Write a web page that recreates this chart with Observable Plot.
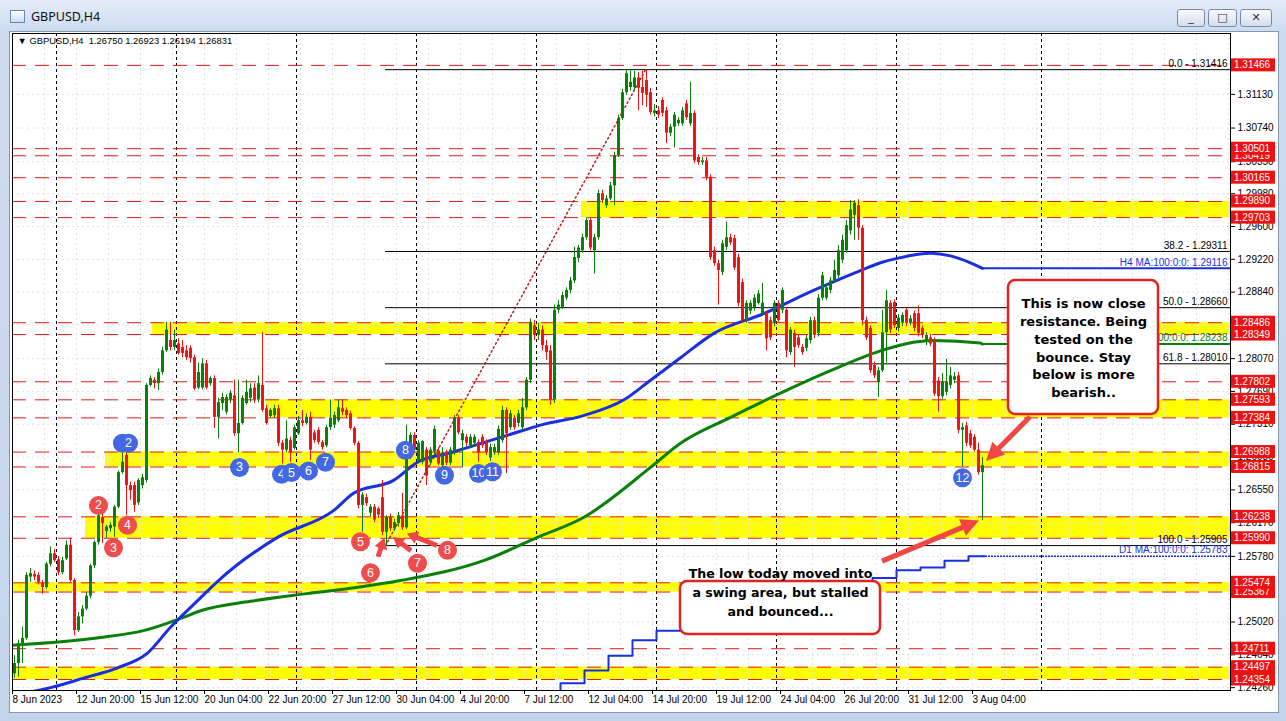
<!DOCTYPE html>
<html>
<head>
<meta charset="utf-8">
<title>GBPUSD,H4</title>
<script src="https://cdn.jsdelivr.net/npm/d3@7"></script>
<script src="https://cdn.jsdelivr.net/npm/@observablehq/plot@0.6"></script>
<style>
  html, body { margin: 0; padding: 0; }
  body { width: 1286px; height: 721px; overflow: hidden; position: relative; background: #c5d6ec; }
  #win { position: absolute; left: 0; top: 0; width: 1286px; height: 721px; background: linear-gradient(#e3ecf8 0px, #cfdcf0 30px, #c4d5eb 100%); }
  #client { position: absolute; left: 9px; top: 31px; width: 1270px; height: 682px; background: #fff; border: 1px solid #8797ad; box-sizing: border-box; }
  #icon { position: absolute; left: 10px; top: 10px; width: 15px; height: 13px; border: 1px solid #6b86b0; background: linear-gradient(#ffffff, #c9dcf4); box-sizing: border-box; }
  #title { position: absolute; left: 31px; top: 8px; font: 12.5px "Noto Sans", "DejaVu Sans", sans-serif; color: #111; }
  .btn { position: absolute; top: 9px; height: 18px; box-sizing: border-box; border: 1px solid #7a8aa3; border-radius: 3px; background: linear-gradient(#f8fafd, #d3deed); font: 11px "DejaVu Sans", sans-serif; color: #333; text-align: center; line-height: 16px; }
  #chart { position: absolute; left: 0; top: 0; }
</style>
</head>
<body>
<div id="win"></div>
<div id="client"></div>
<div id="icon"></div>
<div id="title">GBPUSD,H4</div>
<div class="btn" style="left:1177px;width:28px">_</div>
<div class="btn" style="left:1208px;width:29px">□</div>
<div class="btn" style="left:1240px;width:32px">✕</div>
<div id="chart"></div>
<script>
// GBPUSD 4-hour bars from 8 Jun 2023 to 3 Aug 2023: [open, high, low, close]
const ohlc = [
  [1.2442,1.2463,1.2437,1.2454],[1.2454,1.2481,1.2438,1.2477],[1.2477,1.2496,1.2454,1.2483],[1.2483,1.2559,1.2481,1.2556],
  [1.2554,1.2564,1.2548,1.2558],[1.2557,1.2561,1.2550,1.2554],[1.2556,1.2559,1.2545,1.2548],[1.2547,1.2550,1.2534,1.2542],
  [1.2542,1.2571,1.2540,1.2569],[1.2569,1.2589,1.2566,1.2581],[1.2581,1.2586,1.2571,1.2573],[1.2574,1.2578,1.2556,1.2559],
  [1.2559,1.2577,1.2557,1.2573],[1.2575,1.2596,1.2573,1.2591],[1.2591,1.2599,1.2548,1.2550],[1.2550,1.2552,1.2486,1.2492],
  [1.2492,1.2513,1.2490,1.2508],[1.2508,1.2521,1.2500,1.2517],[1.2517,1.2536,1.2515,1.2532],[1.2532,1.2569,1.2529,1.2567],
  [1.2567,1.2596,1.2564,1.2594],[1.2594,1.2628,1.2591,1.2625],[1.2623,1.2628,1.2593,1.2616],[1.2607,1.2614,1.2599,1.2612],
  [1.2610,1.2617,1.2606,1.2614],[1.2612,1.2637,1.2600,1.2635],[1.2635,1.2677,1.2633,1.2675],[1.2675,1.2698,1.2673,1.2687],
  [1.2695,1.2698,1.2625,1.2660],[1.2660,1.2664,1.2643,1.2654],[1.2660,1.2664,1.2629,1.2637],[1.2640,1.2668,1.2637,1.2666],
  [1.2660,1.2673,1.2656,1.2669],[1.2666,1.2778,1.2663,1.2776],[1.2776,1.2787,1.2774,1.2784],[1.2782,1.2785,1.2772,1.2778],
  [1.2778,1.2795,1.2770,1.2791],[1.2791,1.2820,1.2788,1.2816],[1.2816,1.2849,1.2814,1.2840],[1.2828,1.2849,1.2816,1.2820],
  [1.2820,1.2840,1.2816,1.2828],[1.2824,1.2830,1.2811,1.2813],[1.2820,1.2828,1.2808,1.2813],[1.2816,1.2822,1.2805,1.2808],
  [1.2819,1.2822,1.2802,1.2807],[1.2808,1.2811,1.2770,1.2772],[1.2773,1.2802,1.2771,1.2791],[1.2773,1.2807,1.2771,1.2801],
  [1.2801,1.2805,1.2771,1.2773],[1.2778,1.2786,1.2775,1.2784],[1.2784,1.2787,1.2726,1.2739],[1.2739,1.2761,1.2714,1.2756],
  [1.2755,1.2767,1.2747,1.2762],[1.2745,1.2765,1.2742,1.2762],[1.2759,1.2770,1.2755,1.2767],[1.2764,1.2782,1.2717,1.2720],
  [1.2720,1.2782,1.2698,1.2732],[1.2732,1.2764,1.2730,1.2761],[1.2755,1.2782,1.2753,1.2768],[1.2761,1.2778,1.2756,1.2772],
  [1.2773,1.2778,1.2755,1.2759],[1.2759,1.2787,1.2756,1.2778],[1.2776,1.2837,1.2745,1.2747],[1.2749,1.2753,1.2730,1.2732],
  [1.2740,1.2749,1.2738,1.2747],[1.2741,1.2753,1.2738,1.2749],[1.2749,1.2753,1.2705,1.2709],[1.2709,1.2712,1.2685,1.2701],
  [1.2701,1.2735,1.2698,1.2714],[1.2712,1.2716,1.2687,1.2698],[1.2703,1.2730,1.2701,1.2727],[1.2720,1.2740,1.2718,1.2735],
  [1.2735,1.2747,1.2728,1.2732],[1.2732,1.2743,1.2730,1.2739],[1.2739,1.2745,1.2689,1.2701],[1.2721,1.2724,1.2709,1.2712],
  [1.2724,1.2727,1.2707,1.2710],[1.2710,1.2712,1.2701,1.2704],[1.2706,1.2730,1.2704,1.2727],[1.2727,1.2759,1.2724,1.2738],
  [1.2730,1.2745,1.2726,1.2741],[1.2735,1.2759,1.2733,1.2750],[1.2749,1.2759,1.2741,1.2745],[1.2747,1.2750,1.2738,1.2741],
  [1.2743,1.2746,1.2724,1.2726],[1.2726,1.2728,1.2706,1.2709],[1.2709,1.2711,1.2633,1.2637],[1.2637,1.2652,1.2606,1.2649],
  [1.2646,1.2650,1.2636,1.2639],[1.2628,1.2638,1.2624,1.2635],[1.2635,1.2638,1.2617,1.2620],[1.2633,1.2635,1.2622,1.2626],
  [1.2646,1.2666,1.2602,1.2606],[1.2606,1.2625,1.25905,1.2623],[1.2623,1.2627,1.2607,1.2610],[1.2610,1.2621,1.2607,1.2617],
  [1.2616,1.2629,1.2612,1.2625],[1.2625,1.2651,1.2608,1.2611],[1.2611,1.2730,1.2609,1.2692],[1.2692,1.2721,1.2690,1.2718],
  [1.2718,1.2721,1.2699,1.2701],[1.2689,1.2712,1.2687,1.2709],[1.2687,1.2712,1.2684,1.2711],[1.2701,1.2704,1.2660,1.2671],
  [1.2687,1.2704,1.2683,1.2701],[1.2699,1.2729,1.2695,1.2725],[1.2700,1.2704,1.2683,1.2685],[1.2683,1.2704,1.2679,1.2698],
  [1.2699,1.2701,1.2683,1.2686],[1.2686,1.2704,1.2683,1.2701],[1.2699,1.2741,1.2695,1.2738],[1.2738,1.2741,1.2719,1.2721],
  [1.2712,1.2724,1.2681,1.2720],[1.2716,1.2719,1.2705,1.2709],[1.2706,1.2719,1.2703,1.2716],[1.2709,1.2719,1.2705,1.2716],
  [1.2710,1.2713,1.2687,1.2698],[1.2716,1.2719,1.2703,1.2706],[1.2710,1.2713,1.2695,1.2698],[1.2692,1.2708,1.2688,1.2704],
  [1.2698,1.2708,1.2695,1.2704],[1.2698,1.2729,1.2695,1.2725],[1.2712,1.2752,1.2709,1.2747],[1.2747,1.2750,1.2674,1.2720],
  [1.2727,1.2747,1.2724,1.2743],[1.2738,1.2741,1.2724,1.2727],[1.2732,1.2747,1.2728,1.2743],[1.2727,1.2761,1.2724,1.2750],
  [1.2750,1.2785,1.2747,1.2782],[1.2782,1.2853,1.2778,1.2849],[1.2845,1.2851,1.2828,1.2834],[1.2834,1.2848,1.2828,1.2840],
  [1.2840,1.2845,1.2816,1.2822],[1.2822,1.2828,1.2805,1.2814],[1.2816,1.2822,1.2753,1.2759],[1.2759,1.2869,1.2755,1.2863],
  [1.2863,1.2874,1.2859,1.2869],[1.2866,1.2884,1.2864,1.2880],[1.2877,1.2889,1.2874,1.2886],[1.2886,1.2901,1.2882,1.2897],
  [1.2897,1.2936,1.2894,1.2924],[1.2923,1.2938,1.2918,1.2935],[1.2932,1.2951,1.2929,1.2947],[1.2947,1.2970,1.2944,1.2967],
  [1.2967,1.2969,1.2932,1.2935],[1.2932,1.2951,1.2905,1.2947],[1.2947,1.3002,1.2944,1.2998],[1.2998,1.3002,1.2987,1.2990],
  [1.2984,1.2996,1.2981,1.2992],[1.2992,1.3011,1.2990,1.3007],[1.3007,1.3046,1.2984,1.3042],[1.3042,1.3089,1.3040,1.3085],
  [1.3085,1.3119,1.3083,1.3115],[1.3115,1.3142,1.3112,1.3137],[1.3121,1.3140,1.3117,1.3127],[1.3121,1.3140,1.3117,1.3132],
  [1.3132,1.3138,1.3094,1.3120],[1.3121,1.3140,1.3100,1.3114],[1.3129,1.31416,1.3098,1.3112],[1.3115,1.3120,1.3089,1.3092],
  [1.3091,1.3101,1.3087,1.3094],[1.3094,1.3099,1.3085,1.3089],[1.3106,1.3109,1.3087,1.3091],[1.3094,1.3098,1.3056,1.3068],
  [1.3068,1.3078,1.3064,1.3075],[1.3075,1.3092,1.3051,1.3089],[1.3079,1.3086,1.3076,1.3083],[1.3079,1.3098,1.3076,1.3094],
  [1.3102,1.3106,1.3083,1.3086],[1.3079,1.3127,1.3076,1.3091],[1.3091,1.3094,1.3033,1.3036],[1.3040,1.3043,1.3031,1.3034],
  [1.3034,1.3040,1.3031,1.3036],[1.3036,1.3040,1.3013,1.3017],[1.3017,1.3020,1.2921,1.2924],[1.2932,1.2936,1.2914,1.2917],
  [1.2917,1.2921,1.2869,1.2909],[1.2907,1.2944,1.2903,1.2940],[1.2936,1.2965,1.2932,1.2947],[1.2947,1.2951,1.2938,1.2941],
  [1.2946,1.2950,1.2909,1.2912],[1.2924,1.2928,1.2867,1.2871],[1.2895,1.2899,1.2849,1.2851],[1.2851,1.2874,1.2848,1.2871],
  [1.2862,1.2874,1.2858,1.2871],[1.2866,1.2881,1.2862,1.2877],[1.2871,1.2886,1.2869,1.2882],[1.2859,1.2894,1.2856,1.2871],
  [1.2859,1.2862,1.2816,1.2830],[1.2851,1.2855,1.2828,1.2831],[1.2848,1.2874,1.2844,1.2871],[1.2871,1.2874,1.2848,1.2851],
  [1.2863,1.2889,1.2859,1.2886],[1.2863,1.2866,1.2808,1.2816],[1.2814,1.2843,1.2811,1.2840],[1.2836,1.2840,1.2797,1.2820],
  [1.2831,1.2835,1.2819,1.2822],[1.2820,1.2823,1.2811,1.2814],[1.2819,1.2834,1.2815,1.2830],[1.2828,1.2855,1.2824,1.2851],
  [1.2851,1.2855,1.2830,1.2834],[1.2836,1.2881,1.2832,1.2877],[1.2877,1.2907,1.2874,1.2903],[1.2877,1.2893,1.2874,1.2889],
  [1.2886,1.2901,1.2882,1.2897],[1.2897,1.2921,1.2894,1.2909],[1.2903,1.2938,1.2900,1.2932],[1.2921,1.2950,1.2917,1.2944],
  [1.2932,1.2967,1.2929,1.2961],[1.2955,1.2990,1.2950,1.2979],[1.2973,1.2990,1.2944,1.2987],[1.2984,1.2991,1.2944,1.2958],
  [1.2958,1.2961,1.2845,1.2851],[1.2851,1.2855,1.2828,1.2831],[1.2842,1.2845,1.2790,1.2793],[1.2799,1.2803,1.2784,1.2787],
  [1.2779,1.2797,1.2762,1.2793],[1.2793,1.2863,1.2791,1.2837],[1.2837,1.2886,1.2802,1.2874],[1.2871,1.2874,1.2836,1.2840],
  [1.2872,1.2875,1.2842,1.2845],[1.2842,1.2858,1.2838,1.2854],[1.2848,1.2860,1.2844,1.2857],[1.2863,1.2866,1.2844,1.2848],
  [1.2849,1.2857,1.2845,1.2853],[1.2859,1.2862,1.2838,1.2842],[1.2859,1.2868,1.2832,1.2836],[1.2842,1.2845,1.2830,1.2834],
  [1.2826,1.2837,1.2822,1.2834],[1.2831,1.2835,1.2821,1.2824],[1.2828,1.2831,1.2763,1.2766],[1.2781,1.2785,1.2745,1.2763],
  [1.2763,1.2790,1.2760,1.2780],[1.2768,1.2806,1.2764,1.2780],[1.2776,1.2797,1.2772,1.2787],[1.2782,1.2791,1.2778,1.2786],
  [1.2787,1.2791,1.2720,1.2724],[1.2724,1.2732,1.2681,1.2727],[1.2729,1.2733,1.2705,1.2709],[1.2720,1.2724,1.2703,1.2706],
  [1.2716,1.2719,1.2699,1.2701],[1.2701,1.2709,1.2672,1.2675],[1.26750,1.26923,1.26194,1.26831]
];

// time axis: bar index of each label and its text
const timeTickBars = [0, 16, 32, 48, 64, 80, 96, 112, 128, 144, 160, 176, 192, 208, 224, 240];
const timeTickLabels = ["8 Jun 2023", "12 Jun 20:00", "15 Jun 12:00", "20 Jun 04:00", "22 Jun 20:00", "27 Jun 12:00",
  "30 Jun 04:00", "4 Jul 20:00", "7 Jul 12:00", "12 Jul 04:00", "14 Jul 20:00", "19 Jul 12:00", "24 Jul 04:00",
  "26 Jul 20:00", "31 Jul 12:00", "3 Aug 04:00"];

// price axis ticks
const priceTicks = [1.31130, 1.30740, 1.30350, 1.29980, 1.29600, 1.29220, 1.28840, 1.28460, 1.28070, 1.27690,
  1.27310, 1.26930, 1.26550, 1.26170, 1.25780, 1.25400, 1.25020, 1.24640, 1.24260];

// horizontal support / resistance levels (red dashed, tagged on the price scale)
const levels = [1.31466, 1.30501, 1.30419, 1.30165, 1.29890, 1.29703, 1.28486, 1.28349, 1.27802, 1.27593,
  1.27384, 1.26988, 1.26815, 1.26238, 1.25990, 1.25474, 1.25367, 1.24711, 1.24497, 1.24354];

// swing areas (yellow): first bar, upper level, lower level
const zoneStart = [141.75, 34.5, 63, 22.75, 17.75, -0.5, -0.5];
const zoneHigh = [1.29890, 1.28486, 1.27593, 1.26988, 1.26238, 1.25474, 1.24497];
const zoneLow = [1.29703, 1.28349, 1.27384, 1.26815, 1.25990, 1.25367, 1.24354];

// Fibonacci retracement of the 1.25905 -> 1.31416 rally
const fibLevels = ["0.0", "38.2", "50.0", "61.8", "100.0"];
const fibPrices = [1.31416, 1.29311, 1.28660, 1.28010, 1.25905];
const swingLow = {bar: 92.75, price: 1.25905};
const swingHigh = {bar: 157.75, price: 1.31416};

// moving averages: [bar, value]
const ma100H4 = [[2.75,1.2420],[9,1.2426],[17.25,1.2437],[25.75,1.2449],[33.25,1.2466],[39,1.2496],[46.5,1.2530],
  [51,1.2550],[65.75,1.2600],[79.75,1.2631],[84.75,1.2651],[94.75,1.2666],[100.75,1.2687],[109,1.2698],[127.25,1.2724],
  [131.5,1.2730],[142.25,1.2741],[152.25,1.2759],[159,1.2782],[166.5,1.2808],[174.75,1.2836],[187.25,1.2859],
  [199.75,1.2886],[211.5,1.2909],[216.5,1.2918],[221.5,1.2924],[229,1.2929],[234,1.2926],[239,1.2918],[242,1.29116]];
const ma200H4 = [[-0.5,1.2475],[21.5,1.2484],[32.25,1.2492],[42,1.2507],[46.5,1.2515],[59,1.2526],[71.5,1.2534],
  [84,1.2541],[96.5,1.2550],[117.25,1.2573],[130.75,1.2600],[142.25,1.2623],[159,1.2681],[166.5,1.2709],[179,1.2739],
  [191.5,1.2767],[204,1.2793],[216.5,1.2816],[224.75,1.2826],[229.75,1.2828],[241.5,1.2825],[242,1.28238]];
const ma100D1 = [[130.5,1.2420],[136.5,1.2431],[142.5,1.2446],[148.5,1.2463],[154.5,1.2481],[160.5,1.2492],
  [166.5,1.2504],[172.5,1.2513],[178.5,1.2520],[184.5,1.2526],[190.5,1.2532],[196.5,1.2538],[202.5,1.2543],
  [208.5,1.2548],[214.5,1.2553],[220.5,1.2562],[226.5,1.2565],[232.5,1.2573],[238.5,1.25783]];
const maTags = [
  {text: "H4 MA:100:0:0: 1.29116", value: 1.29116, color: "#1a2fe0"},
  {text: "H4 MA:200:0:0: 1.28238", value: 1.28238, color: "#0a800a"},
  {text: "D1 MA:100:0:0: 1.25783", value: 1.25783, color: "#1a2fe0"}
];

// weekly period separators (between bars)
const weekBreaks = [10.5, 40.5, 70.5, 100.5, 130.5, 160.5, 190.5, 220.5, 256.75];

// counted tests of the swing areas (drawn in this order, later ones on top)
const blueCounts = [
  {n: "1", bar: 27, price: 1.2709}, {n: "2", bar: 28.5, price: 1.2709}, {n: "3", bar: 56.25, price: 1.2681},
  {n: "4", bar: 66.75, price: 1.2673}, {n: "5", bar: 69.25, price: 1.2675}, {n: "6", bar: 73.5, price: 1.2677},
  {n: "7", bar: 77.75, price: 1.2687}, {n: "8", bar: 97.75, price: 1.2701}, {n: "9", bar: 107.5, price: 1.2672},
  {n: "10", bar: 116, price: 1.2674}, {n: "11", bar: 119.5, price: 1.2676}, {n: "12", bar: 237, price: 1.2669}
];
const redCounts = [
  {n: "2", bar: 21, price: 1.2637}, {n: "3", bar: 24.75, price: 1.2588}, {n: "4", bar: 28.25, price: 1.2614},
  {n: "5", bar: 86.5, price: 1.2595}, {n: "6", bar: 89, price: 1.2559}, {n: "7", bar: 100.75, price: 1.2570},
  {n: "8", bar: 108.25, price: 1.2585}
];

// comment boxes
const notes = [
  {x1: 248.5, x2: 286, y1: 1.28975, y2: 1.27423, cx: 267.25, cy: 1.28204,
   text: "This is now close\nresistance. Being\ntested on the\nbounce. Stay\nbelow is more\nbearish.."},
  {x1: 166.5, x2: 216.5, y1: 1.25488, y2: 1.24876, cx: 191.5, cy: 1.25376,
   text: "The low today moved into\na swing area, but stalled\nand bounced..."}
];

// pointers: tail [bar, price] -> tip [bar, price]
const pointers = [
  {from: [254, 1.2739], to: [243, 1.2688], w: 5, head: 18, half: 9},
  {from: [217, 1.2572], to: [241.25, 1.2619], w: 5, head: 18, half: 9},
  {from: [91, 1.2577], to: [92.6, 1.2599], w: 5, head: 11, half: 6.5},
  {from: [99.25, 1.2584], to: [94.75, 1.2600], w: 5, head: 11, half: 6.5},
  {from: [105.75, 1.2590], to: [98.2, 1.2604], w: 5, head: 11, half: 6.5}
];

const header = "▼ GBPUSD,H4  1.26750 1.26923 1.26194 1.26831";

// ---------------------------------------------------------------
const UP = "#0a800a", DOWN = "#f01414", LEVEL = "#e41818", BLUE = "#1a2fe0";
const xEnd = 304;
const lastBar = ohlc.length - 1;
const candles = ohlc.map(([o, h, l, c], i) => ({i, o, h, l, c, color: c >= o ? UP : DOWN}));
const zones = zoneStart.map((s, k) => ({s, hi: zoneHigh[k], lo: zoneLow[k]}));
const fibs = fibLevels.map((lv, k) => ({lv, price: fibPrices[k]}));
const tickLabel = new Map(timeTickBars.map((b, k) => [b, timeTickLabels[k]]));
const d1Line = [...ma100D1, [lastBar + 0.5, ma100D1[ma100D1.length - 1][1]]];
const gridBars = d3.range(-0.5, xEnd, 8);

// each numbered disc is drawn with its own label so overlapping discs stack properly
const countMarks = [
  ...blueCounts.map(d => ({...d, fill: "#4467e3"})),
  ...redCounts.map(d => ({...d, fill: "#ef4d4d"}))
].flatMap(d => [
  Plot.dot([d], {x: "bar", y: "price", r: 9.5, fill: d.fill}),
  Plot.text([d], {x: "bar", y: "price", text: "n", fill: "#fff", fontSize: 12.5})
]);

const chart = Plot.plot({
  width: 1286,
  height: 721,
  marginLeft: 12,
  marginRight: 56,
  marginTop: 33,
  marginBottom: 31,
  x: {domain: [-0.5, xEnd], label: null},
  y: {domain: [1.24227, 1.31835], label: null},
  style: {background: "transparent", fontFamily: "'Liberation Sans', Arial, sans-serif", fontSize: "10px", overflow: "visible"},
  marks: [
    Plot.rect(zones, {x1: "s", x2: xEnd, y1: "lo", y2: "hi", fill: "#ffff00"}),
    Plot.ruleY(priceTicks, {stroke: "#e2e2e2", strokeDasharray: "2,3"}),
    Plot.ruleX(gridBars, {stroke: "#e2e2e2", strokeDasharray: "2,3"}),
    Plot.ruleX(weekBreaks, {stroke: "#000", strokeDasharray: "3,3"}),
    Plot.ruleY(levels, {stroke: LEVEL, strokeDasharray: "14,9"}),
    Plot.ruleY(fibs, {y: "price", x1: swingLow.bar, x2: xEnd, stroke: "#000"}),
    Plot.line([swingLow, swingHigh], {x: "bar", y: "price", stroke: "#c01818", strokeDasharray: "1.5,3"}),
    Plot.text(fibs, {x: xEnd, y: "price", text: d => `${d.lv} - ${d.price.toFixed(5)}`, textAnchor: "end", dx: -3, dy: -6, fill: "#000"}),
    // moving averages
    Plot.line(ma200H4, {x: d => d[0], y: d => d[1], stroke: UP, strokeWidth: 3, curve: "monotone-x", clip: true}),
    Plot.line(ma100H4, {x: d => d[0], y: d => d[1], stroke: BLUE, strokeWidth: 3, curve: "monotone-x", clip: true}),
    Plot.line(d1Line, {x: d => d[0], y: d => d[1], stroke: BLUE, strokeWidth: 2, curve: "step-after", clip: true}),
    Plot.ruleY(maTags.slice(0, 2), {y: "value", x1: lastBar, x2: xEnd, stroke: "color", strokeWidth: 2}),
    Plot.ruleY(maTags.slice(2), {y: "value", x1: lastBar, x2: xEnd, stroke: "color", strokeWidth: 1.5, strokeDasharray: "2,1"}),
    Plot.text(maTags, {x: xEnd, y: "value", text: "text", fill: "color", textAnchor: "end", dx: -3, dy: -6}),
    // candles
    Plot.ruleX(candles, {x: "i", y1: "l", y2: "h", stroke: "color", strokeWidth: 1}),
    Plot.ruleX(candles, {x: "i", y1: "o", y2: "c", stroke: "color", strokeWidth: 3}),
    // frame and axes
    Plot.frame({stroke: "#000"}),
    Plot.axisY({anchor: "right", ticks: priceTicks, tickFormat: d3.format(".5f"), tickSize: 4, tickPadding: 3, label: null}),
    Plot.axisX({anchor: "bottom", ticks: timeTickBars, tickFormat: d => tickLabel.get(d), tickSize: 4, tickPadding: 1,
      textAnchor: "start", dx: -2, label: null}),
    Plot.text([header], {text: d => d, frameAnchor: "top-left", dx: 5, dy: 4, fontSize: 9.4}),
    // counts
    ...countMarks,
    // comment boxes
    Plot.rect(notes, {x1: "x1", x2: "x2", y1: "y1", y2: "y2", fill: "#fff", stroke: "#e52222", strokeWidth: 2.5, rx: 7}),
    Plot.text(notes.slice(0, 1), {x: "cx", y: "cy", text: "text", fontSize: 13, fontWeight: "bold",
      fontFamily: "'DejaVu Sans', Verdana, sans-serif", lineHeight: 1.37, fill: "#000"}),
    Plot.text(notes.slice(1), {x: "cx", y: "cy", text: "text", fontSize: 12.6, fontWeight: "bold",
      fontFamily: "'DejaVu Sans', Verdana, sans-serif", lineHeight: 1.5, fill: "#000"})
  ]
});

// price tags on the right-hand scale and red pointers, placed through the plot's scales
const sx = chart.scale("x"), sy = chart.scale("y");
const svg = d3.select(chart);
const rightEdge = sx.apply(xEnd);
const tags = svg.append("g")
  .attr("font-family", "'Liberation Sans', Arial, sans-serif")
  .attr("font-size", 10)
  .attr("text-anchor", "start");
for (const v of [...levels].sort((a, b) => a - b)) {
  const y = sy.apply(v);
  tags.append("rect").attr("x", rightEdge + 1).attr("y", y - 6.5).attr("width", 44).attr("height", 13).attr("fill", "#ee1111");
  tags.append("text").attr("x", rightEdge + 4).attr("y", y).attr("dy", "0.35em").attr("fill", "#fff").text(v.toFixed(5));
}
const arrowsG = svg.append("g").attr("fill", "#f04646");
for (const p of pointers) {
  const x1 = sx.apply(p.from[0]), y1 = sy.apply(p.from[1]);
  const x2 = sx.apply(p.to[0]), y2 = sy.apply(p.to[1]);
  const len = Math.hypot(x2 - x1, y2 - y1), ux = (x2 - x1) / len, uy = (y2 - y1) / len, nx = -uy, ny = ux;
  const bx = x2 - ux * p.head, by = y2 - uy * p.head, hw = p.w / 2;
  const pts = [[x1 + nx * hw, y1 + ny * hw], [bx + nx * hw, by + ny * hw], [bx + nx * p.half, by + ny * p.half], [x2, y2],
    [bx - nx * p.half, by - ny * p.half], [bx - nx * hw, by - ny * hw], [x1 - nx * hw, y1 - ny * hw]];
  arrowsG.append("polygon").attr("points", pts.map(q => q.join(",")).join(" "));
}

document.getElementById("chart").append(chart);
</script>
</body>
</html>
